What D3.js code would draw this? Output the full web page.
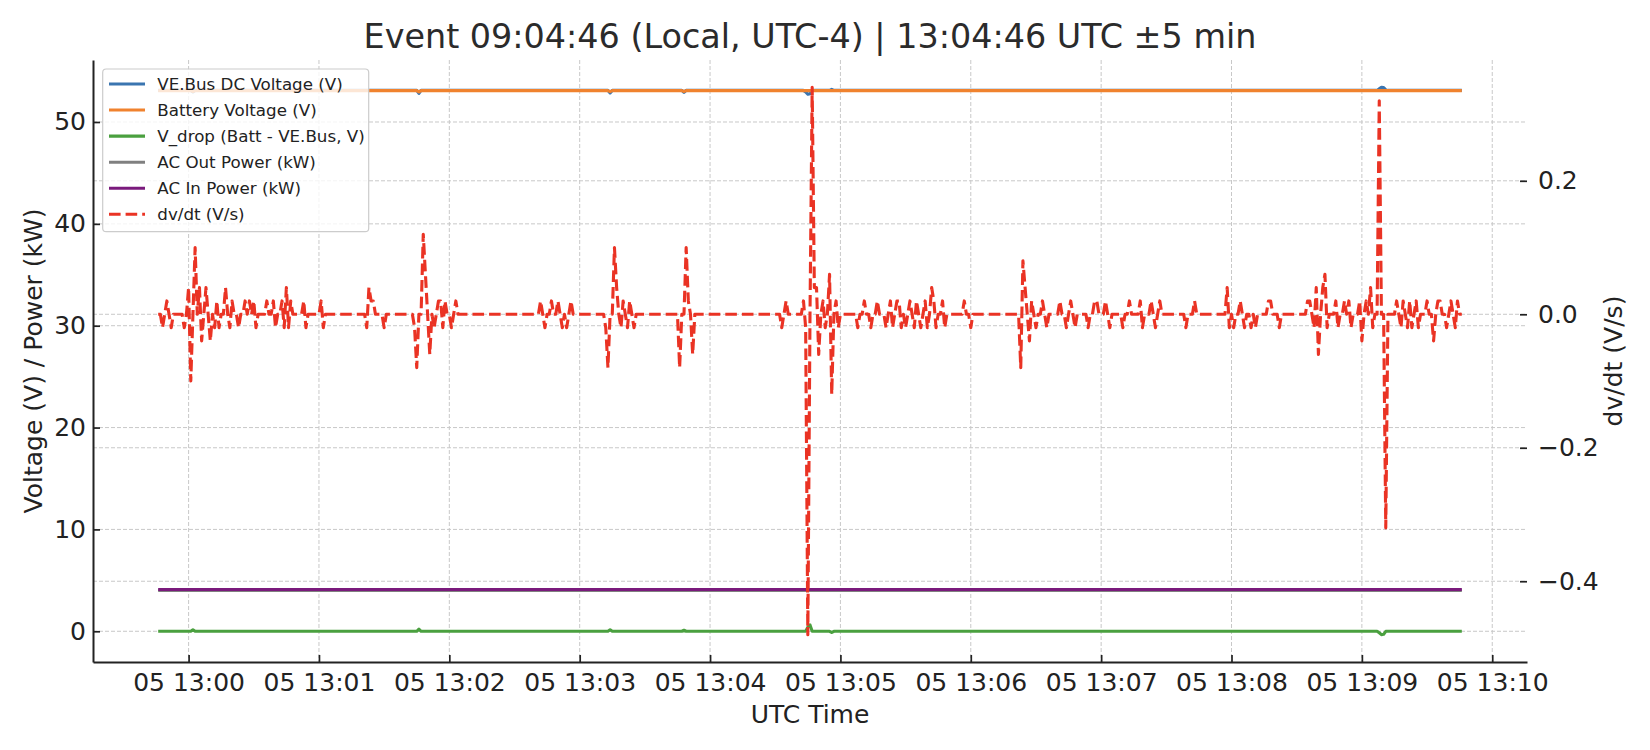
<!DOCTYPE html>
<html>
<head>
<meta charset="utf-8">
<script src="https://cdnjs.cloudflare.com/ajax/libs/d3/7.8.5/d3.min.js"></script>
<style>
  body { margin: 0; background: #fff; }
  svg { display: block; font-family: "DejaVu Sans", sans-serif; }
</style>
</head>
<body>
<div id="chart"></div>
<script>
// one sample per second, 12:59:46 .. 13:09:46 UTC (event at 13:04:46)
const startUtc = Date.UTC(2025, 7, 5, 12, 59, 46);
const sampleCount = 601;

// readings as [secondsFromStart, value]; the line runs through these points
const veBusVoltage = [[0, 53.1], [15, 53.1], [16, 52.95], [17, 53.1], [119, 53.1], [120, 52.8], [121, 53.1],
  [207, 53.1], [208, 52.85], [209, 53.1], [241, 53.1], [242, 52.9], [243, 53.1], [297, 53.1], [298, 52.95],
  [299, 52.72], [300, 52.78], [301, 53.15], [302, 53.1], [309, 53.1], [310, 53.2], [311, 53.1], [561, 53.1],
  [562, 53.25], [563, 53.4], [564, 53.38], [565, 53.15], [566, 53.1], [600, 53.1]];
const batteryVoltage = [[0, 53.08], [15, 53.08], [16, 53.0], [17, 53.08], [119, 53.08], [120, 52.95], [121, 53.08],
  [207, 53.08], [208, 52.98], [209, 53.08], [241, 53.08], [242, 52.99], [243, 53.08], [600, 53.08]];
const vDrop = [[0, 0], [15, 0], [16, 0.15], [17, 0], [119, 0], [120, 0.2], [121, 0], [207, 0], [208, 0.15], [209, 0],
  [241, 0], [242, 0.1], [243, 0], [298, 0], [299, 0.4], [300, 0.62], [301, 0], [309, 0], [310, -0.12], [311, 0],
  [561, 0], [562, -0.15], [563, -0.33], [564, -0.3], [565, 0], [600, 0]];
const acOutPower = [[0, 4.02], [60, 4.02], [120, 4.02], [180, 4.02], [240, 4.02], [300, 4.02], [360, 4.02],
  [420, 4.02], [480, 4.02], [540, 4.02], [600, 4.02]];
const acInPower = [[0, 4.1], [60, 4.1], [120, 4.1], [180, 4.1], [240, 4.1], [300, 4.1], [360, 4.1],
  [420, 4.1], [480, 4.1], [540, 4.1], [600, 4.1]];

// dv/dt (V/s), every second, 20 per row
const dvdt = [
  0,0,-.02,0,.02,0,-.02,0,0,0,0,0,-.02,0,.04,-.1,0,.1,0,.04,
  -.04,0,.04,0,-.04,0,-.02,.02,-.02,0,0,.04,0,-.02,.02,0,0,-.02,0,0,
  .02,0,.02,0,.02,-.02,0,0,0,0,.02,0,0,.02,-.02,0,0,.02,-.02,.04,
  -.02,.02,0,0,0,0,0,.02,-.02,0,0,0,0,0,0,.02,-.02,0,0,0,
  0,0,0,0,0,0,0,0,0,0,0,0,0,0,0,0,-.02,.04,.02,.02,
  0,0,0,0,-.02,0,0,0,0,0,0,0,0,0,0,0,0,0,-.02,-.08,
  0,0,.12,.06,0,-.06,0,-.02,0,.02,.02,-.02,.02,0,0,-.02,0,.02,0,0,
  0,0,0,0,0,0,0,0,0,0,0,0,0,0,0,0,0,0,0,0,
  0,0,0,0,0,0,0,0,0,0,0,0,0,0,0,0,.02,0,-.02,0,
  0,.02,0,0,.02,0,-.02,0,-.02,0,.02,0,0,0,0,0,0,0,0,0,
  0,0,0,0,0,0,-.02,-.08,0,0,.1,.04,0,-.02,.02,0,-.02,.02,0,-.02,
  0,0,0,0,0,0,0,0,0,0,0,0,0,0,0,0,0,0,0,0,
  -.08,0,0,.1,.02,0,-.06,0,0,0,0,0,0,0,0,0,0,0,0,0,
  0,0,0,0,0,0,0,0,0,0,0,0,0,0,0,0,0,0,0,0,
  0,0,0,0,0,0,0,-.02,0,.02,0,0,0,0,0,0,0,.02,-.02,-.48,
  0,.34,.04,.04,-.06,0,.02,-.02,0,.06,-.12,0,.02,-.02,0,0,0,0,0,0,
  0,0,-.02,0,0,.02,0,0,-.02,0,0,.02,0,0,0,-.02,0,.02,-.02,0,
  .02,.02,-.02,0,-.02,0,.02,0,-.02,.02,0,-.02,0,.02,-.02,0,.04,.02,-.02,0,
  0,.02,-.02,0,0,0,0,0,0,0,0,.02,0,0,-.02,0,0,0,0,0,
  0,0,0,0,0,0,0,0,0,0,0,0,0,0,0,0,0,-.08,.08,.04,
  0,-.04,.02,0,-.02,0,0,.02,0,-.02,0,0,0,0,0,.02,0,0,-.02,0,
  .02,0,-.02,0,0,0,0,0,-.02,0,0,.02,.02,0,0,0,.02,0,-.02,0,
  0,0,0,0,-.02,0,0,.02,0,0,0,0,.02,-.02,0,0,0,.02,0,-.02,
  0,.02,0,0,0,0,0,0,0,0,0,0,0,-.02,0,0,0,.02,0,0,
  0,0,0,0,0,0,0,0,0,0,0,0,.04,-.02,0,-.02,0,0,.02,0,
  -.02,0,0,-.02,0,-.02,0,0,0,0,0,.02,.02,0,0,0,-.02,0,0,0,
  0,0,0,0,0,0,0,0,0,.02,.02,0,-.02,.04,-.06,0,.04,.06,-.02,0,
  0,0,.02,-.02,0,0,.02,0,.02,-.02,0,0,0,.02,-.04,0,.02,0,.04,-.02,
  0,0,.32,0,0,-.32,0,0,0,0,.02,0,-.02,.02,0,-.02,.02,-.02,0,.02,
  -.02,0,0,0,.02,0,0,-.04,0,.02,.02,0,0,-.02,0,.02,0,-.02,.02,0,
  0
];

const xTickMinutes = [0, 1, 2, 3, 4, 5, 6, 7, 8, 9, 10];   // 13:00 .. 13:10
const leftTicks = [0, 10, 20, 30, 40, 50];
const rightTicks = [-0.4, -0.2, 0.0, 0.2];

const leftSeries = [
  { label: "VE.Bus DC Voltage (V)", data: veBusVoltage, color: "#3a75b0" },
  { label: "Battery Voltage (V)", data: batteryVoltage, color: "#f0822e" },
  { label: "V_drop (Batt - VE.Bus, V)", data: vDrop, color: "#4aa03f" },
  { label: "AC Out Power (kW)", data: acOutPower, color: "#808080" },
  { label: "AC In Power (kW)", data: acInPower, color: "#7a1a7c" }
];
const dvdtLabel = "dv/dt (V/s)";
const red = "#ea3324";

const W = 1650, H = 750;
const box = { left: 93, right: 1527, top: 60, bottom: 662 };

const timeAt = (s) => new Date(startUtc + s * 1000);

// matplotlib-style 5% margins
const pad = (ext) => {
  const r = ext[1] - ext[0];
  return [ext[0] - r * 0.05, ext[1] + r * 0.05];
};

const xScale = d3.scaleUtc()
  .domain(pad([startUtc, startUtc + (sampleCount - 1) * 1000]))
  .range([box.left, box.right]);

const allLeft = leftSeries.flatMap((s) => s.data.map((d) => d[1]));
const yLeft = d3.scaleLinear().domain(pad(d3.extent(allLeft))).range([box.bottom, box.top]);
const yRight = d3.scaleLinear().domain(pad(d3.extent(dvdt))).range([box.bottom, box.top]);

const svg = d3.select("#chart").append("svg").attr("width", W).attr("height", H);

// grid
const grid = svg.append("g")
  .attr("stroke", "#c8c8c8").attr("stroke-width", 1).attr("stroke-dasharray", "4,2");

const xTickDates = xTickMinutes.map((m) => new Date(Date.UTC(2025, 7, 5, 13, m, 0)));

grid.selectAll(".gx").data(xTickDates).enter().append("line")
  .attr("x1", (d) => xScale(d)).attr("x2", (d) => xScale(d))
  .attr("y1", box.top).attr("y2", box.bottom);
grid.selectAll(".gyl").data(leftTicks).enter().append("line")
  .attr("x1", box.left).attr("x2", box.right)
  .attr("y1", (d) => yLeft(d)).attr("y2", (d) => yLeft(d));
grid.selectAll(".gyr").data(rightTicks).enter().append("line")
  .attr("x1", box.left).attr("x2", box.right)
  .attr("y1", (d) => yRight(d)).attr("y2", (d) => yRight(d));

// left-axis lines
const lineLeft = d3.line()
  .x((d) => xScale(timeAt(d[0])))
  .y((d) => yLeft(d[1]));

leftSeries.forEach((s) => {
  svg.append("path")
    .datum(s.data)
    .attr("d", lineLeft)
    .attr("fill", "none")
    .attr("stroke", s.color)
    .attr("stroke-width", 3.1)
    .attr("stroke-linejoin", "round");
});

// dv/dt on the right axis
const lineRight = d3.line()
  .x((d, i) => xScale(timeAt(i)))
  .y((d) => yRight(d));

svg.append("path")
  .datum(dvdt)
  .attr("d", lineRight)
  .attr("fill", "none")
  .attr("stroke", red)
  .attr("stroke-width", 3.1)
  .attr("stroke-dasharray", "11.6,5")
  .attr("stroke-linejoin", "round");

// axes
const xAxis = d3.axisBottom(xScale)
  .tickValues(xTickDates)
  .tickFormat(d3.utcFormat("%d %H:%M"))
  .tickSizeInner(-7).tickSizeOuter(0).tickPadding(11);

const yAxisLeft = d3.axisLeft(yLeft)
  .tickValues(leftTicks)
  .tickFormat(d3.format("d"))
  .tickSizeInner(-7).tickSizeOuter(0).tickPadding(7);

const yAxisRight = d3.axisRight(yRight)
  .tickValues(rightTicks)
  .tickFormat(d3.format(".1f"))
  .tickSizeInner(-7).tickSizeOuter(0).tickPadding(11);

const styleAxis = (g) => {
  g.selectAll("text").attr("font-size", 25).attr("fill", "#222").attr("font-family", "DejaVu Sans");
  g.selectAll(".tick line").attr("stroke", "#222").attr("stroke-width", 1.7);
  g.select(".domain").attr("stroke", "#222").attr("stroke-width", 2);
};

svg.append("g").attr("transform", `translate(0,${box.bottom})`).call(xAxis).call(styleAxis);
svg.append("g").attr("transform", `translate(${box.left},0)`).call(yAxisLeft).call(styleAxis);
svg.append("g").attr("transform", `translate(${box.right},0)`).call(yAxisRight).call(styleAxis)
  .call((g) => g.select(".domain").remove());

// titles
const midX = (box.left + box.right) / 2;
const midY = (box.top + box.bottom) / 2;

svg.append("text")
  .attr("x", midX).attr("y", 48)
  .attr("text-anchor", "middle").attr("font-size", 33.4).attr("fill", "#2b2b2b")
  .text("Event 09:04:46 (Local, UTC-4) | 13:04:46 UTC ±5 min");

svg.append("text")
  .attr("x", midX).attr("y", 723)
  .attr("text-anchor", "middle").attr("font-size", 25).attr("fill", "#222")
  .text("UTC Time");

svg.append("text")
  .attr("transform", `translate(42,${midY}) rotate(-90)`)
  .attr("text-anchor", "middle").attr("font-size", 25).attr("fill", "#222")
  .text("Voltage (V) / Power (kW)");

svg.append("text")
  .attr("transform", `translate(1622,${midY}) rotate(-90)`)
  .attr("text-anchor", "middle").attr("font-size", 25).attr("fill", "#222")
  .text("dv/dt (V/s)");

// legend
const legendItems = leftSeries.map((s) => ({ label: s.label, color: s.color, dashed: false }))
  .concat([{ label: dvdtLabel, color: red, dashed: true }]);

const legend = svg.append("g");
legend.append("rect")
  .attr("x", 102.7).attr("y", 69).attr("width", 266).attr("height", 162.7)
  .attr("rx", 3.5)
  .attr("fill", "#fff").attr("fill-opacity", 0.8)
  .attr("stroke", "#cccccc").attr("stroke-width", 1.2);

const rows = legend.selectAll(".item").data(legendItems).enter().append("g")
  .attr("transform", (d, i) => `translate(0,${84 + i * 26.06})`);

rows.append("line")
  .attr("x1", 109).attr("x2", 145).attr("y1", 0).attr("y2", 0)
  .attr("stroke", (d) => d.color).attr("stroke-width", 3.1)
  .attr("stroke-dasharray", (d) => d.dashed ? "11.6,5" : null);

rows.append("text")
  .attr("x", 157.3).attr("y", 0).attr("dy", "0.35em")
  .attr("font-size", 16.7).attr("fill", "#222")
  .text((d) => d.label);
</script>
</body>
</html>
